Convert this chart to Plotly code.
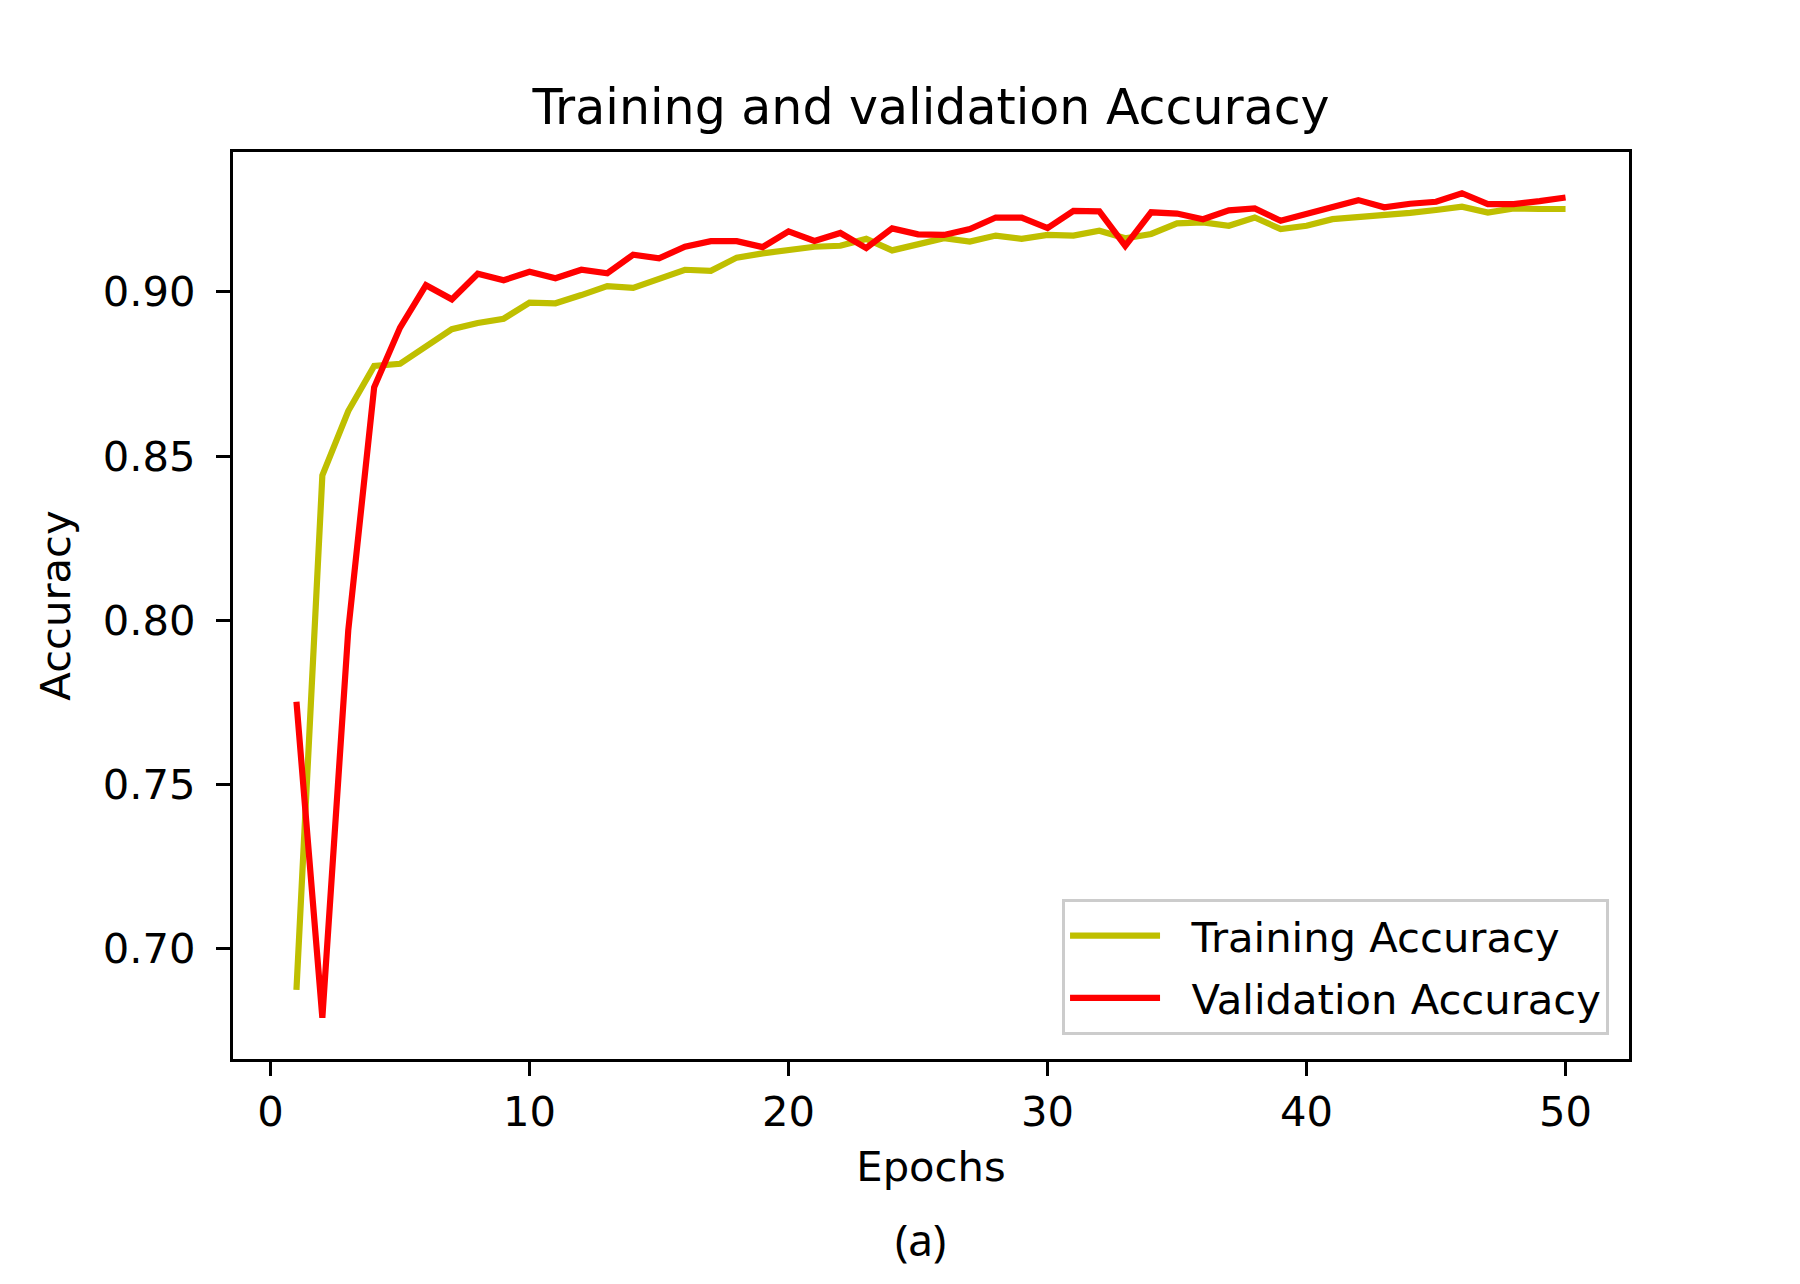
import plotly.graph_objects as go

# epochs and accuracy values
epochs = list(range(1, 51))

train_acc = [0.6875, 0.8441, 0.8637, 0.8774, 0.8781, 0.8836, 0.8886, 0.8905, 0.8918, 0.8967,
             0.8965, 0.8990, 0.9017, 0.9012, 0.9041, 0.9067, 0.9064, 0.9104, 0.9117, 0.9126,
             0.9137, 0.9140, 0.9161, 0.9126, 0.9145, 0.9163, 0.9153, 0.9171, 0.9161, 0.9173,
             0.9171, 0.9186, 0.9163, 0.9176, 0.9208, 0.9211, 0.9201, 0.9226, 0.9191, 0.9201,
             0.9221, 0.9226, 0.9231, 0.9240, 0.9249, 0.9259, 0.9241, 0.9254, 0.9252, 0.9252]

val_acc = [0.7752, 0.6790, 0.7969, 0.8709, 0.8891, 0.9020, 0.8977, 0.9055, 0.9035, 0.9061,
           0.9041, 0.9067, 0.9056, 0.9113, 0.9102, 0.9137, 0.9154, 0.9154, 0.9136, 0.9184,
           0.9155, 0.9179, 0.9133, 0.9193, 0.9175, 0.9173, 0.9191, 0.9226, 0.9226, 0.9194,
           0.9246, 0.9245, 0.9140, 0.9242, 0.9238, 0.9221, 0.9248, 0.9254, 0.9216, 0.9236,
           0.9255, 0.9279, 0.9257, 0.9268, 0.9274, 0.9300, 0.9267, 0.9267, 0.9276, 0.9287]

x_ticks = [0, 10, 20, 30, 40, 50]
y_ticks = [0.70, 0.75, 0.80, 0.85, 0.90]

FONT = "DejaVu Sans"
GAP = "\u00a0\u00a0"  # a little room between legend line and label

data = [
    go.Scatter(x=epochs, y=train_acc, mode='lines', name=GAP + 'Training Accuracy',
               legendgroup='train', line=dict(color='#bfbf00', width=6.2)),
    go.Scatter(x=epochs, y=val_acc, mode='lines', name=GAP + 'Validation Accuracy',
               legendgroup='val', line=dict(color='#ff0000', width=6.2)),
]

# matplotlib-style 5% margins around the data
x_pad = (max(epochs) - min(epochs)) * 0.05
lo = min(min(train_acc), min(val_acc))
hi = max(max(train_acc), max(val_acc))
y_pad = (hi - lo) * 0.05

axis_style = dict(showline=True, linecolor='black', linewidth=3.3, mirror=True,
                  ticks='outside', ticklen=14, tickwidth=3.3, tickcolor='black',
                  showgrid=False, zeroline=False,
                  tickfont=dict(family=FONT, size=41.7, color='black'))

layout = go.Layout(
    width=1800, height=1284,
    paper_bgcolor='white', plot_bgcolor='white',
    margin=dict(l=225, r=179, t=144, b=233, autoexpand=False),
    font=dict(family=FONT, color='black'),
    title=dict(text='Training and validation Accuracy', x=0.5, xref='paper',
               y=1 - 99 / 1284, yref='container', yanchor='middle',
               font=dict(family=FONT, size=49, color='black')),
    xaxis=dict(axis_style, range=[min(epochs) - x_pad, max(epochs) + x_pad],
               tickvals=x_ticks, ticklabelstandoff=0,
               title=dict(text='Epochs', standoff=17,
                          font=dict(family=FONT, size=41.7, color='black'))),
    yaxis=dict(axis_style, range=[lo - y_pad, hi + y_pad],
               tickvals=y_ticks, tickformat='.2f', ticklabelstandoff=12,
               title=dict(text='Accuracy', standoff=20,
                          font=dict(family=FONT, size=41.7, color='black'))),
    legend=dict(x=0.9857, y=0.0265, xanchor='right', yanchor='bottom',
                bgcolor='rgba(255,255,255,0.8)', bordercolor='#cccccc', borderwidth=3,
                font=dict(family=FONT, size=41.7, color='black'), itemwidth=90,
                tracegroupgap=5),
    annotations=[dict(text='(a)', x=0.4928, y=-0.199,
                      xref='paper', yref='paper', showarrow=False,
                      xanchor='center', yanchor='middle',
                      font=dict(family='Noto Sans', size=44, color='black'))],
)

fig = go.Figure(data=data, layout=layout)
fig.write_html("out.html")
